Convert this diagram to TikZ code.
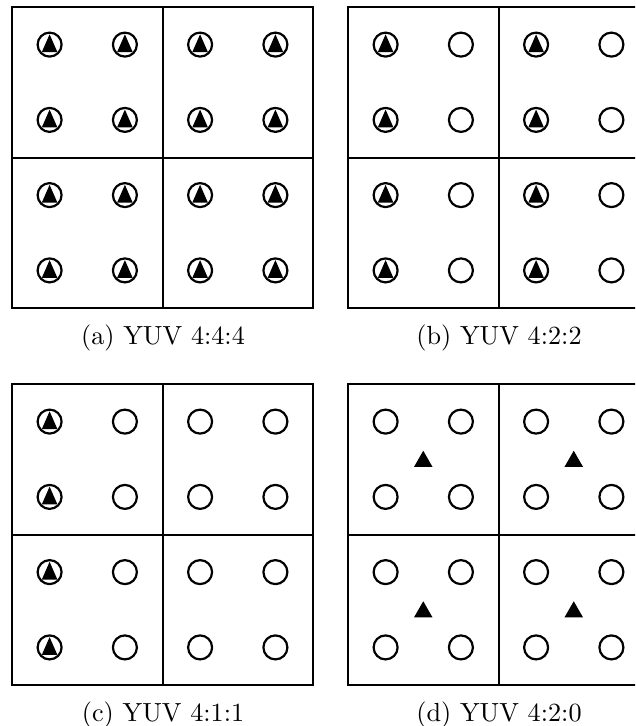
\documentclass[tikz,border=0pt]{standalone}
\begin{document}
\begin{tikzpicture}[x=1pt,y=-1pt,
  frame/.style={line width=2pt},
  ring/.style={line width=2.2pt},
  captext/.style={anchor=base,inner sep=0pt,scale=2.62,font=\fontsize{10}{12}\selectfont}]
\useasboundingbox (0,0) rectangle (635,726);
\clip (0,0) rectangle (635,726);
% ring with triangle inside
\newcommand{\ringtri}[2]{%
  \draw[ring] (#1,#2) circle (12);
  \fill (#1,#2) ++(0,-10.3) -- ++(7.8,17.8) -- ++(-15.6,0) -- cycle;}
\newcommand{\ringonly}[2]{\draw[ring] (#1,#2) circle (12);}
\newcommand{\freetri}[2]{\fill (#1,#2) ++(0,-8.5) -- ++(9.3,16.2) -- ++(-18.6,0) -- cycle;}
\newcommand{\panelframe}[2]{%
  \draw[frame] (#1,#2) rectangle ++(301,301);
  \draw[frame] (#1+150.5,#2) -- ++(0,301);
  \draw[frame] (#1,#2+150.5) -- ++(301,0);}
% (a)
\panelframe{12}{7}
\foreach \i in {0,1} \foreach \j in {0,1} \foreach \p in {37.6,112.9} \foreach \q in {37.6,112.9}
  {\ringtri{12+150.5*\i+\p}{7+150.5*\j+\q}}
\node[captext] (capa) at (163,344) {(a) YUV 4:4:4};
% (b)
\panelframe{348}{7}
\foreach \i in {0,1} \foreach \j in {0,1} \foreach \q in {37.6,112.9}
  {\ringtri{348+150.5*\i+37.6}{7+150.5*\j+\q}
   \ringonly{348+150.5*\i+112.9}{7+150.5*\j+\q}}
\node[captext] (capb) at (499,344) {(b) YUV 4:2:2};
% (c)
\panelframe{12}{384}
\foreach \j in {0,1} \foreach \q in {37.6,112.9}
  {\ringtri{12+37.6}{384+150.5*\j+\q}
   \ringonly{12+112.9}{384+150.5*\j+\q}
   \ringonly{12+150.5+37.6}{384+150.5*\j+\q}
   \ringonly{12+150.5+112.9}{384+150.5*\j+\q}}
\node[captext] (capc) at (163,721) {(c) YUV 4:1:1};
% (d)
\panelframe{348}{384}
\foreach \i in {0,1} \foreach \j in {0,1}
  {\foreach \p in {37.6,112.9} \foreach \q in {37.6,112.9}
     {\ringonly{348+150.5*\i+\p}{384+150.5*\j+\q}}
   \freetri{348+150.5*\i+75.25}{384+150.5*\j+75.25}}
\node[captext] (capd) at (499,721) {(d) YUV 4:2:0};
\end{tikzpicture}
\end{document}
